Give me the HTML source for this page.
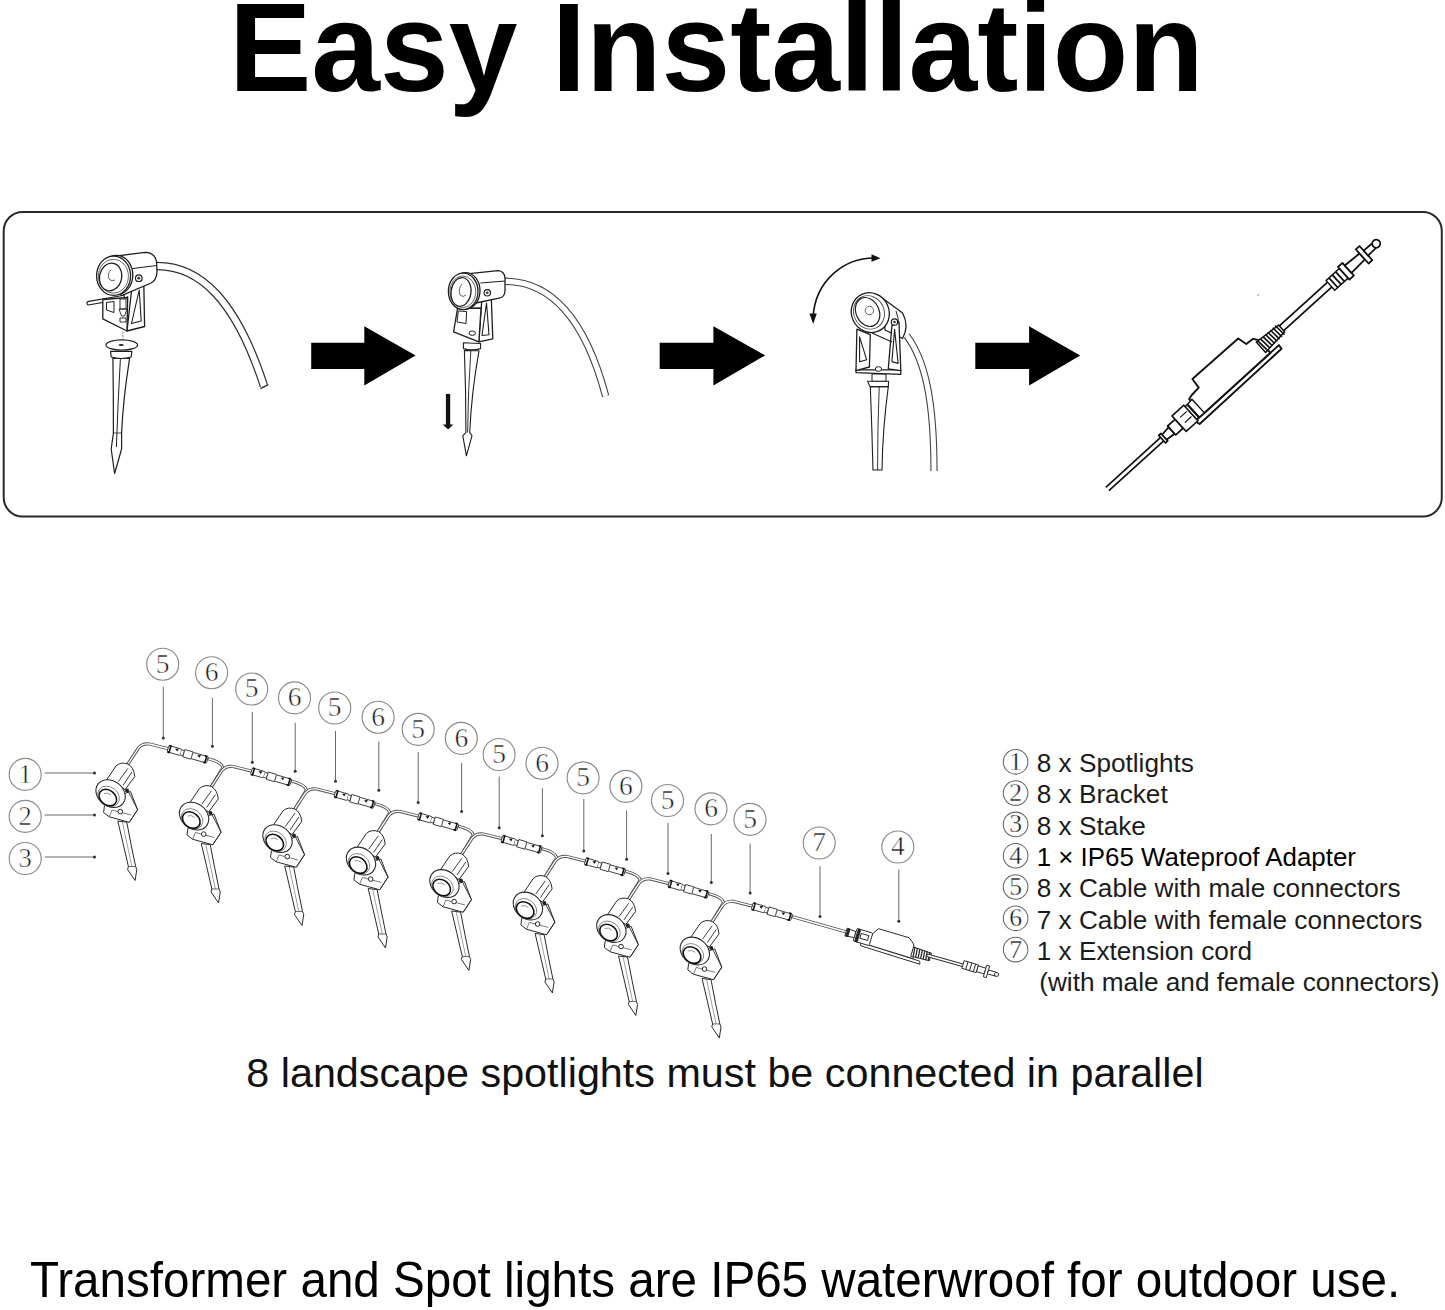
<!DOCTYPE html>
<html><head><meta charset="utf-8"><title>Easy Installation</title>
<style>html,body{margin:0;padding:0;background:#fff;}body{width:1445px;height:1310px;overflow:hidden;position:relative;}svg{position:absolute;left:0;top:0;}</style>
</head><body>
<svg width="1445" height="1310" viewBox="0 0 1445 1310">
<text transform="translate(229.00,90.90) scale(1,1.028)" font-family="Liberation Sans" font-size="123.5" font-weight="bold" fill="#000" >Easy Installation</text>
<text transform="translate(246.30,1086.50) scale(1,1)" font-family="Liberation Sans" font-size="41.3" font-weight="normal" fill="#111" >8 landscape spotlights must be connected in parallel</text>
<text transform="translate(30.00,1296.70) scale(1,1.034)" font-family="Liberation Sans" font-size="47.58" font-weight="normal" fill="#000" >Transformer and Spot lights are IP65 waterwroof for outdoor use.</text>
<rect x="3.7" y="212" width="1438.1" height="304.5" rx="19" ry="19" fill="none" stroke="#2a2a2a" stroke-width="2"/>
<polygon points="311.2,342.8 364.3,342.8 364.3,326.2 415.6,355.4 364.3,385.6 364.3,368.9 311.2,368.9" fill="#000"/>
<polygon points="659.7,342.8 713.4,342.8 713.4,326.2 765.2,355.4 713.4,385.6 713.4,368.9 659.7,368.9" fill="#000"/>
<polygon points="975.3,342.8 1029.1,342.8 1029.1,326.2 1080.2,355.4 1029.1,385.6 1029.1,368.9 975.3,368.9" fill="#000"/>
<circle cx="1015.6" cy="761.8" r="12.3" fill="none" stroke="#666" stroke-width="1.05"/>
<text x="1015.6" y="769.7" text-anchor="middle" font-family="Liberation Serif" font-size="25.6" fill="#1a1a1a" stroke="#fff" stroke-width="0.35">1</text>
<text transform="translate(1036.70,772.00) scale(1,0.965)" font-family="Liberation Sans" font-size="26.2" font-weight="normal" fill="#1c1c1c" >8 x Spotlights</text>
<circle cx="1015.6" cy="793.1" r="12.3" fill="none" stroke="#666" stroke-width="1.05"/>
<text x="1015.6" y="801.0" text-anchor="middle" font-family="Liberation Serif" font-size="25.6" fill="#1a1a1a" stroke="#fff" stroke-width="0.35">2</text>
<text transform="translate(1036.70,803.30) scale(1,0.965)" font-family="Liberation Sans" font-size="26.2" font-weight="normal" fill="#1c1c1c" >8 x Bracket</text>
<circle cx="1015.6" cy="824.4" r="12.3" fill="none" stroke="#666" stroke-width="1.05"/>
<text x="1015.6" y="832.3" text-anchor="middle" font-family="Liberation Serif" font-size="25.6" fill="#1a1a1a" stroke="#fff" stroke-width="0.35">3</text>
<text transform="translate(1036.70,834.60) scale(1,0.965)" font-family="Liberation Sans" font-size="26.2" font-weight="normal" fill="#1c1c1c" >8 x Stake</text>
<circle cx="1015.6" cy="855.7" r="12.3" fill="none" stroke="#666" stroke-width="1.05"/>
<text x="1015.6" y="863.6" text-anchor="middle" font-family="Liberation Serif" font-size="25.6" fill="#1a1a1a" stroke="#fff" stroke-width="0.35">4</text>
<text transform="translate(1036.70,865.90) scale(1,0.975)" font-family="Liberation Sans" font-size="25.9" font-weight="normal" fill="#000" >1 × IP65 Wateproof Adapter</text>
<circle cx="1015.6" cy="887.0" r="12.3" fill="none" stroke="#666" stroke-width="1.05"/>
<text x="1015.6" y="894.9" text-anchor="middle" font-family="Liberation Serif" font-size="25.6" fill="#1a1a1a" stroke="#fff" stroke-width="0.35">5</text>
<text transform="translate(1036.70,897.20) scale(1,0.965)" font-family="Liberation Sans" font-size="26.2" font-weight="normal" fill="#1c1c1c" >8 x Cable with male connectors</text>
<circle cx="1015.6" cy="918.3" r="12.3" fill="none" stroke="#666" stroke-width="1.05"/>
<text x="1015.6" y="926.2" text-anchor="middle" font-family="Liberation Serif" font-size="25.6" fill="#1a1a1a" stroke="#fff" stroke-width="0.35">6</text>
<text transform="translate(1036.70,928.50) scale(1,0.965)" font-family="Liberation Sans" font-size="26.2" font-weight="normal" fill="#1c1c1c" >7 x Cable with female connectors</text>
<circle cx="1015.6" cy="949.6" r="12.3" fill="none" stroke="#666" stroke-width="1.05"/>
<text x="1015.6" y="957.5" text-anchor="middle" font-family="Liberation Serif" font-size="25.6" fill="#1a1a1a" stroke="#fff" stroke-width="0.35">7</text>
<text transform="translate(1036.70,959.80) scale(1,0.965)" font-family="Liberation Sans" font-size="26.2" font-weight="normal" fill="#1c1c1c" >1 x Extension cord</text>
<text transform="translate(1039.20,991.10) scale(1,0.965)" font-family="Liberation Sans" font-size="26.2" font-weight="normal" fill="#1c1c1c" >(with male and female connectors)</text>
<circle cx="162.7" cy="664.2" r="16" fill="none" stroke="#8a8a8a" stroke-width="1.15"/>
<text x="162.7" y="672.5" text-anchor="middle" font-family="Liberation Serif" font-size="27.5" fill="#1a1a1a" stroke="#fff" stroke-width="0.5">5</text>
<line x1="163.3" y1="686.8" x2="163.3" y2="738" stroke="#6a6a6a" stroke-width="1"/><circle cx="163.3" cy="738" r="1.5" fill="#333"/>
<circle cx="211.6" cy="672.7" r="16" fill="none" stroke="#8a8a8a" stroke-width="1.15"/>
<text x="211.6" y="681.0" text-anchor="middle" font-family="Liberation Serif" font-size="27.5" fill="#1a1a1a" stroke="#fff" stroke-width="0.5">6</text>
<line x1="212.4" y1="697.6" x2="212.4" y2="746.2" stroke="#6a6a6a" stroke-width="1"/><circle cx="212.4" cy="746.2" r="1.5" fill="#333"/>
<circle cx="251.7" cy="689" r="16" fill="none" stroke="#8a8a8a" stroke-width="1.15"/>
<text x="251.7" y="697.3" text-anchor="middle" font-family="Liberation Serif" font-size="27.5" fill="#1a1a1a" stroke="#fff" stroke-width="0.5">5</text>
<line x1="252.3" y1="712" x2="252.3" y2="762.3" stroke="#6a6a6a" stroke-width="1"/><circle cx="252.3" cy="762.3" r="1.5" fill="#333"/>
<circle cx="294.5" cy="697.9" r="16" fill="none" stroke="#8a8a8a" stroke-width="1.15"/>
<text x="294.5" y="706.2" text-anchor="middle" font-family="Liberation Serif" font-size="27.5" fill="#1a1a1a" stroke="#fff" stroke-width="0.5">6</text>
<line x1="295.2" y1="722.8" x2="295.2" y2="771.3" stroke="#6a6a6a" stroke-width="1"/><circle cx="295.2" cy="771.3" r="1.5" fill="#333"/>
<circle cx="334.7" cy="708" r="16" fill="none" stroke="#8a8a8a" stroke-width="1.15"/>
<text x="334.7" y="716.3" text-anchor="middle" font-family="Liberation Serif" font-size="27.5" fill="#1a1a1a" stroke="#fff" stroke-width="0.5">5</text>
<line x1="335.5" y1="730.9" x2="335.5" y2="781.2" stroke="#6a6a6a" stroke-width="1"/><circle cx="335.5" cy="781.2" r="1.5" fill="#333"/>
<circle cx="378.1" cy="717.2" r="16" fill="none" stroke="#8a8a8a" stroke-width="1.15"/>
<text x="378.1" y="725.5" text-anchor="middle" font-family="Liberation Serif" font-size="27.5" fill="#1a1a1a" stroke="#fff" stroke-width="0.5">6</text>
<line x1="378.8" y1="741.7" x2="378.8" y2="790.2" stroke="#6a6a6a" stroke-width="1"/><circle cx="378.8" cy="790.2" r="1.5" fill="#333"/>
<circle cx="418.2" cy="729.3" r="16" fill="none" stroke="#8a8a8a" stroke-width="1.15"/>
<text x="418.2" y="737.6" text-anchor="middle" font-family="Liberation Serif" font-size="27.5" fill="#1a1a1a" stroke="#fff" stroke-width="0.5">5</text>
<line x1="418.2" y1="752.2" x2="418.2" y2="802.6" stroke="#6a6a6a" stroke-width="1"/><circle cx="418.2" cy="802.6" r="1.5" fill="#333"/>
<circle cx="461.3" cy="738.3" r="16" fill="none" stroke="#8a8a8a" stroke-width="1.15"/>
<text x="461.3" y="746.6" text-anchor="middle" font-family="Liberation Serif" font-size="27.5" fill="#1a1a1a" stroke="#fff" stroke-width="0.5">6</text>
<line x1="461.6" y1="763" x2="461.6" y2="811.5" stroke="#6a6a6a" stroke-width="1"/><circle cx="461.6" cy="811.5" r="1.5" fill="#333"/>
<circle cx="499.1" cy="754.5" r="16" fill="none" stroke="#8a8a8a" stroke-width="1.15"/>
<text x="499.1" y="762.8" text-anchor="middle" font-family="Liberation Serif" font-size="27.5" fill="#1a1a1a" stroke="#fff" stroke-width="0.5">5</text>
<line x1="499.2" y1="776.5" x2="499.2" y2="827.7" stroke="#6a6a6a" stroke-width="1"/><circle cx="499.2" cy="827.7" r="1.5" fill="#333"/>
<circle cx="542" cy="763.2" r="16" fill="none" stroke="#8a8a8a" stroke-width="1.15"/>
<text x="542" y="771.5" text-anchor="middle" font-family="Liberation Serif" font-size="27.5" fill="#1a1a1a" stroke="#fff" stroke-width="0.5">6</text>
<line x1="542.4" y1="788.2" x2="542.4" y2="835.8" stroke="#6a6a6a" stroke-width="1"/><circle cx="542.4" cy="835.8" r="1.5" fill="#333"/>
<circle cx="583.1" cy="777.8" r="16" fill="none" stroke="#8a8a8a" stroke-width="1.15"/>
<text x="583.1" y="786.1" text-anchor="middle" font-family="Liberation Serif" font-size="27.5" fill="#1a1a1a" stroke="#fff" stroke-width="0.5">5</text>
<line x1="583.8" y1="799" x2="583.8" y2="851.1" stroke="#6a6a6a" stroke-width="1"/><circle cx="583.8" cy="851.1" r="1.5" fill="#333"/>
<circle cx="625.9" cy="786.3" r="16" fill="none" stroke="#8a8a8a" stroke-width="1.15"/>
<text x="625.9" y="794.6" text-anchor="middle" font-family="Liberation Serif" font-size="27.5" fill="#1a1a1a" stroke="#fff" stroke-width="0.5">6</text>
<line x1="626.6" y1="810.6" x2="626.6" y2="859.2" stroke="#6a6a6a" stroke-width="1"/><circle cx="626.6" cy="859.2" r="1.5" fill="#333"/>
<circle cx="667.5" cy="800.5" r="16" fill="none" stroke="#8a8a8a" stroke-width="1.15"/>
<text x="667.5" y="808.8" text-anchor="middle" font-family="Liberation Serif" font-size="27.5" fill="#1a1a1a" stroke="#fff" stroke-width="0.5">5</text>
<line x1="668" y1="823" x2="668" y2="873.5" stroke="#6a6a6a" stroke-width="1"/><circle cx="668" cy="873.5" r="1.5" fill="#333"/>
<circle cx="711" cy="808.8" r="16" fill="none" stroke="#8a8a8a" stroke-width="1.15"/>
<text x="711" y="817.1" text-anchor="middle" font-family="Liberation Serif" font-size="27.5" fill="#1a1a1a" stroke="#fff" stroke-width="0.5">6</text>
<line x1="711.3" y1="834" x2="711.3" y2="882.4" stroke="#6a6a6a" stroke-width="1"/><circle cx="711.3" cy="882.4" r="1.5" fill="#333"/>
<circle cx="750" cy="819.4" r="16" fill="none" stroke="#8a8a8a" stroke-width="1.15"/>
<text x="750" y="827.7" text-anchor="middle" font-family="Liberation Serif" font-size="27.5" fill="#1a1a1a" stroke="#fff" stroke-width="0.5">5</text>
<line x1="750.1" y1="843.5" x2="750.1" y2="893" stroke="#6a6a6a" stroke-width="1"/><circle cx="750.1" cy="893" r="1.5" fill="#333"/>
<circle cx="819.2" cy="843" r="16" fill="none" stroke="#8a8a8a" stroke-width="1.15"/>
<text x="819.2" y="851.3" text-anchor="middle" font-family="Liberation Serif" font-size="27.5" fill="#1a1a1a" stroke="#fff" stroke-width="0.5">7</text>
<line x1="820" y1="866" x2="820" y2="916.5" stroke="#6a6a6a" stroke-width="1"/><circle cx="820" cy="916.5" r="1.5" fill="#333"/>
<circle cx="897.8" cy="847" r="16" fill="none" stroke="#8a8a8a" stroke-width="1.15"/>
<text x="897.8" y="855.3" text-anchor="middle" font-family="Liberation Serif" font-size="27.5" fill="#1a1a1a" stroke="#fff" stroke-width="0.5">4</text>
<line x1="898.8" y1="869.4" x2="898.8" y2="921.2" stroke="#6a6a6a" stroke-width="1"/><circle cx="898.8" cy="921.2" r="1.5" fill="#333"/>
<circle cx="25.2" cy="774.4" r="16" fill="none" stroke="#8a8a8a" stroke-width="1.15"/>
<text x="25.2" y="782.7" text-anchor="middle" font-family="Liberation Serif" font-size="26.6" fill="#1a1a1a" stroke="#fff" stroke-width="0.5">1</text>
<line x1="44.7" y1="773" x2="94.5" y2="773" stroke="#6a6a6a" stroke-width="1"/><circle cx="94.5" cy="773" r="1.5" fill="#333"/>
<circle cx="25.2" cy="816.4" r="16" fill="none" stroke="#8a8a8a" stroke-width="1.15"/>
<text x="25.2" y="824.7" text-anchor="middle" font-family="Liberation Serif" font-size="26.6" fill="#1a1a1a" stroke="#fff" stroke-width="0.5">2</text>
<line x1="44.7" y1="815" x2="94.5" y2="815" stroke="#6a6a6a" stroke-width="1"/><circle cx="94.5" cy="815" r="1.5" fill="#333"/>
<circle cx="25.2" cy="858.5" r="16" fill="none" stroke="#8a8a8a" stroke-width="1.15"/>
<text x="25.2" y="866.8" text-anchor="middle" font-family="Liberation Serif" font-size="26.6" fill="#1a1a1a" stroke="#fff" stroke-width="0.5">3</text>
<line x1="44.7" y1="857" x2="94.5" y2="857" stroke="#6a6a6a" stroke-width="1"/><circle cx="94.5" cy="857" r="1.5" fill="#333"/>
<defs><g id="lamp">
<g stroke="#2a2a2a" stroke-width="1" fill="#fff" stroke-linejoin="round">
 <!-- stake -->
 <path d="M117.8,821 Q123,843 128.4,866.5 L127.6,869.5 L135.1,880.5 L136.8,869.5 L135.6,866.5 Q131,845 126.8,822.2 Z"/>
 <path d="M122.3,821.8 L131.9,866.5" fill="none" stroke="#777" stroke-width="0.7"/>
 <path d="M128.2,866.5 L135.6,866.5" fill="none" stroke-width="0.7"/>
 <!-- bracket -->
 <path d="M104.4,806 L103.6,812.5 L109.2,816.8 L129.3,822.3 L137.6,809.7 L130.5,791.5 L126,793 Z"/>
 <path d="M127.5,790 L137.6,809.7 L129.3,822.3" fill="none" stroke-width="0.9"/>
 <path d="M109.2,816.8 L112,810 L131,815" fill="none" stroke="#555" stroke-width="0.8"/>
 <circle cx="120.3" cy="811.6" r="2.3" stroke-width="1"/>
 <!-- cylinder -->
 <path d="M106.5,780 L116,766 Q121,761.5 128,764 Q134,767.5 134.8,776.5 L125.2,789.5 Z"/>
 <path d="M118.3,781.7 L128,768.3 M123.2,785 L132,772" fill="none" stroke-width="0.9"/>
 <!-- front ring -->
 <ellipse cx="110.6" cy="793.6" rx="15.8" ry="12.6" transform="rotate(38 110.6 793.6)" stroke-width="1.1"/>
 <ellipse cx="108.6" cy="796.4" rx="11.6" ry="9.4" transform="rotate(38 108.6 796.4)" stroke="#777" stroke-width="0.8"/>
 <ellipse cx="107.8" cy="797.6" rx="9.6" ry="7.4" transform="rotate(38 107.8 797.6)" stroke="#111" stroke-width="1.6"/>
 <path d="M104,793.5 Q108,792 111,795" fill="none" stroke="#777" stroke-width="0.8"/>
 <circle cx="127" cy="790.5" r="2" fill="#222" stroke="none"/>
</g></g></defs>
<defs><g id="conn">
<g stroke="#333" stroke-width="0.85" fill="#fff">
 <rect x="0.5" y="-3.3" width="13.5" height="6.6" rx="0.8"/>
 <path d="M0.8,-3.4 L2.6,-3.4 L2.6,3.4 L0.8,3.4" fill="none" stroke="#111" stroke-width="1.6"/>
 <path d="M7.5,-1.8 L11,-3 L10.2,0.2 Z" fill="#111" stroke="none"/>
 <path d="M14,-2.6 L17,-2.6 L17,2.6 L14,2.6"/>
 <path d="M17,-3.8 L25.5,-3.8 Q27.5,0 25.5,3.8 L17,3.8 Z"/>
 <rect x="25.5" y="-3.3" width="16" height="6.6" rx="0.8"/>
 <path d="M30.5,-1.8 L34,-3 L33.2,0.2 Z" fill="#111" stroke="none"/>
 <path d="M38,-3.4 L39.8,-3.4 L39.8,3.4 L38,3.4" fill="none" stroke="#111" stroke-width="1.6"/>
</g></g></defs>
<g transform="translate(0.00,0.00)">
<path d="M128,764 L138.5,748 Q142.5,743 149.5,744 L167.5,748.5" fill="none" stroke="#555" stroke-width="3.2" stroke-linecap="round" stroke-linejoin="round"/>
<path d="M128,764 L138.5,748 Q142.5,743 149.5,744 L167.5,748.5" fill="none" stroke="#fff" stroke-width="1.3" stroke-linecap="round" stroke-linejoin="round"/>
<path d="M209,759 Q221,762 223,767.5 L211.8,786" fill="none" stroke="#555" stroke-width="3.2" stroke-linecap="round" stroke-linejoin="round"/>
<path d="M209,759 Q221,762 223,767.5 L211.8,786" fill="none" stroke="#fff" stroke-width="1.3" stroke-linecap="round" stroke-linejoin="round"/>
</g>
<g transform="translate(83.46,22.49)">
<path d="M128,764 L138.5,748 Q142.5,743 149.5,744 L167.5,748.5" fill="none" stroke="#555" stroke-width="3.2" stroke-linecap="round" stroke-linejoin="round"/>
<path d="M128,764 L138.5,748 Q142.5,743 149.5,744 L167.5,748.5" fill="none" stroke="#fff" stroke-width="1.3" stroke-linecap="round" stroke-linejoin="round"/>
<path d="M209,759 Q221,762 223,767.5 L211.8,786" fill="none" stroke="#555" stroke-width="3.2" stroke-linecap="round" stroke-linejoin="round"/>
<path d="M209,759 Q221,762 223,767.5 L211.8,786" fill="none" stroke="#fff" stroke-width="1.3" stroke-linecap="round" stroke-linejoin="round"/>
</g>
<g transform="translate(166.92,44.98)">
<path d="M128,764 L138.5,748 Q142.5,743 149.5,744 L167.5,748.5" fill="none" stroke="#555" stroke-width="3.2" stroke-linecap="round" stroke-linejoin="round"/>
<path d="M128,764 L138.5,748 Q142.5,743 149.5,744 L167.5,748.5" fill="none" stroke="#fff" stroke-width="1.3" stroke-linecap="round" stroke-linejoin="round"/>
<path d="M209,759 Q221,762 223,767.5 L211.8,786" fill="none" stroke="#555" stroke-width="3.2" stroke-linecap="round" stroke-linejoin="round"/>
<path d="M209,759 Q221,762 223,767.5 L211.8,786" fill="none" stroke="#fff" stroke-width="1.3" stroke-linecap="round" stroke-linejoin="round"/>
</g>
<g transform="translate(250.38,67.47)">
<path d="M128,764 L138.5,748 Q142.5,743 149.5,744 L167.5,748.5" fill="none" stroke="#555" stroke-width="3.2" stroke-linecap="round" stroke-linejoin="round"/>
<path d="M128,764 L138.5,748 Q142.5,743 149.5,744 L167.5,748.5" fill="none" stroke="#fff" stroke-width="1.3" stroke-linecap="round" stroke-linejoin="round"/>
<path d="M209,759 Q221,762 223,767.5 L211.8,786" fill="none" stroke="#555" stroke-width="3.2" stroke-linecap="round" stroke-linejoin="round"/>
<path d="M209,759 Q221,762 223,767.5 L211.8,786" fill="none" stroke="#fff" stroke-width="1.3" stroke-linecap="round" stroke-linejoin="round"/>
</g>
<g transform="translate(333.84,89.96)">
<path d="M128,764 L138.5,748 Q142.5,743 149.5,744 L167.5,748.5" fill="none" stroke="#555" stroke-width="3.2" stroke-linecap="round" stroke-linejoin="round"/>
<path d="M128,764 L138.5,748 Q142.5,743 149.5,744 L167.5,748.5" fill="none" stroke="#fff" stroke-width="1.3" stroke-linecap="round" stroke-linejoin="round"/>
<path d="M209,759 Q221,762 223,767.5 L211.8,786" fill="none" stroke="#555" stroke-width="3.2" stroke-linecap="round" stroke-linejoin="round"/>
<path d="M209,759 Q221,762 223,767.5 L211.8,786" fill="none" stroke="#fff" stroke-width="1.3" stroke-linecap="round" stroke-linejoin="round"/>
</g>
<g transform="translate(417.30,112.45)">
<path d="M128,764 L138.5,748 Q142.5,743 149.5,744 L167.5,748.5" fill="none" stroke="#555" stroke-width="3.2" stroke-linecap="round" stroke-linejoin="round"/>
<path d="M128,764 L138.5,748 Q142.5,743 149.5,744 L167.5,748.5" fill="none" stroke="#fff" stroke-width="1.3" stroke-linecap="round" stroke-linejoin="round"/>
<path d="M209,759 Q221,762 223,767.5 L211.8,786" fill="none" stroke="#555" stroke-width="3.2" stroke-linecap="round" stroke-linejoin="round"/>
<path d="M209,759 Q221,762 223,767.5 L211.8,786" fill="none" stroke="#fff" stroke-width="1.3" stroke-linecap="round" stroke-linejoin="round"/>
</g>
<g transform="translate(500.76,134.94)">
<path d="M128,764 L138.5,748 Q142.5,743 149.5,744 L167.5,748.5" fill="none" stroke="#555" stroke-width="3.2" stroke-linecap="round" stroke-linejoin="round"/>
<path d="M128,764 L138.5,748 Q142.5,743 149.5,744 L167.5,748.5" fill="none" stroke="#fff" stroke-width="1.3" stroke-linecap="round" stroke-linejoin="round"/>
<path d="M209,759 Q221,762 223,767.5 L211.8,786" fill="none" stroke="#555" stroke-width="3.2" stroke-linecap="round" stroke-linejoin="round"/>
<path d="M209,759 Q221,762 223,767.5 L211.8,786" fill="none" stroke="#fff" stroke-width="1.3" stroke-linecap="round" stroke-linejoin="round"/>
</g>
<g transform="translate(584.22,157.43)">
<path d="M128,764 L138.5,748 Q142.5,743 149.5,744 L167.5,748.5" fill="none" stroke="#555" stroke-width="3.2" stroke-linecap="round" stroke-linejoin="round"/>
<path d="M128,764 L138.5,748 Q142.5,743 149.5,744 L167.5,748.5" fill="none" stroke="#fff" stroke-width="1.3" stroke-linecap="round" stroke-linejoin="round"/>
</g>
<use href="#lamp" transform="translate(0.00,0.00)"/>
<use href="#conn" transform="translate(167.50,748.50) rotate(16.0)"/>
<use href="#lamp" transform="translate(83.46,22.49)"/>
<use href="#conn" transform="translate(250.96,770.99) rotate(16.0)"/>
<use href="#lamp" transform="translate(166.92,44.98)"/>
<use href="#conn" transform="translate(334.42,793.48) rotate(16.0)"/>
<use href="#lamp" transform="translate(250.38,67.47)"/>
<use href="#conn" transform="translate(417.88,815.97) rotate(16.0)"/>
<use href="#lamp" transform="translate(333.84,89.96)"/>
<use href="#conn" transform="translate(501.34,838.46) rotate(16.0)"/>
<use href="#lamp" transform="translate(417.30,112.45)"/>
<use href="#conn" transform="translate(584.80,860.95) rotate(16.0)"/>
<use href="#lamp" transform="translate(500.76,134.94)"/>
<use href="#conn" transform="translate(668.26,883.44) rotate(16.0)"/>
<use href="#lamp" transform="translate(584.22,157.43)"/>
<use href="#conn" transform="translate(751.72,905.93) rotate(16.0)"/>
<path d="M793.5,917 L846.5,932" fill="none" stroke="#555" stroke-width="3.2" stroke-linecap="round" stroke-linejoin="round"/>
<path d="M793.5,917 L846.5,932" fill="none" stroke="#fff" stroke-width="1.3" stroke-linecap="round" stroke-linejoin="round"/>
<g transform="translate(846,932) rotate(16.5)" stroke="#2a2a2a" stroke-width="0.9" fill="#fff">
 <path d="M0,-4 L9.5,-3 L9.5,3 L0,4 Z"/><rect x="1" y="-4" width="2" height="8" fill="#222"/>
 <path d="M16.8,5.7 L79,7 L80,10 L18,9 Z"/>
 <path d="M26.3,-6.5 L30.2,-12.4 L62.1,-12.4 L66,-9.5 L68.2,-7.7 L70,-3.3 L72,6.5 L24,6 Z"/>
 <rect x="9.5" y="-6.5" width="16.5" height="13" rx="1"/><rect x="11" y="-6.5" width="2.5" height="13" fill="#222"/><rect x="15" y="-3" width="8" height="5" fill="none"/>
 <path d="M69,-4.8 L88,-3.8 L88,3.8 L69,4.8 Z" fill="#fff" stroke-width="1"/>
 <line x1="70.5" y1="-4.5" x2="71.3" y2="4.5" stroke-width="1.3"/>
 <line x1="73.1" y1="-4.5" x2="73.9" y2="4.5" stroke-width="1.3"/>
 <line x1="75.7" y1="-4.5" x2="76.5" y2="4.5" stroke-width="1.3"/>
 <line x1="78.3" y1="-4.5" x2="79.1" y2="4.5" stroke-width="1.3"/>
 <line x1="80.9" y1="-4.5" x2="81.7" y2="4.5" stroke-width="1.3"/>
 <line x1="83.5" y1="-4.5" x2="84.3" y2="4.5" stroke-width="1.3"/>
 <line x1="86.1" y1="-4.5" x2="86.9" y2="4.5" stroke-width="1.3"/>
</g>
<path d="M928,955.5 L963.5,965.5" fill="none" stroke="#333" stroke-width="3.6" stroke-linecap="round" stroke-linejoin="round"/>
<path d="M928,955.5 L963.5,965.5" fill="none" stroke="#fff" stroke-width="1.6" stroke-linecap="round" stroke-linejoin="round"/>
<g transform="translate(963,964.5) rotate(16.5)" stroke="#2a2a2a" stroke-width="0.9" fill="#fff">
 <rect x="0" y="-4" width="15" height="8"/><line x1="4" y1="-4" x2="4" y2="4"/><line x1="8" y1="-4" x2="8" y2="4"/><line x1="12" y1="-4" x2="12" y2="4"/>
 <rect x="15" y="-3" width="8" height="6"/><rect x="23" y="-6" width="3" height="12"/><rect x="26" y="-2" width="8" height="4"/><circle cx="35" cy="0" r="2"/>
</g><path d="M150,266 L157,266 C200,266 236,300 264,386" fill="none" stroke="#333" stroke-width="8.6" stroke-linecap="butt"/>
<path d="M150,266 L157,266 C200,266 236,300 264,386" fill="none" stroke="#fff" stroke-width="6.2" stroke-linecap="butt"/>
<path d="M260.4,388.6 L268.4,384.6" stroke="#333" stroke-width="1.3" fill="none"/>
<g stroke="#1e1e1e" fill="#fff" stroke-linejoin="round" stroke-width="1.3">
<path d="M87.5,301.6 L124,295.2 L124.6,298.6 L88.2,305 Q86,303.4 87.5,301.6 Z" stroke-width="1.1"/>
<path d="M132.6,281.5 L143.7,277.8 L144.6,326.5 L127,331 Z"/>
<path d="M139.2,290 L141.2,321 L131.5,323.5 Z" stroke-width="1.1"/>
<path d="M102.8,299.5 L127.7,297.5 L127,331 L102.8,318.9 Z"/>
<path d="M106.5,302.5 L114,301.5 L114,312.5 L106.5,310 Z" stroke-width="1"/>
<path d="M120,299 L126,299 L126,309 L120,309 Z M119,309 L127,309 L124.5,316 L121.5,316 Z" stroke-width="0.9"/>
<path d="M120,318 L126,318 L126,322 L120,322 Z" stroke-width="0.9"/>
<line x1="126" y1="299" x2="128" y2="296" stroke-width="0.9"/>
<path d="M109.8,256.8 L145,252.4 Q155,252.5 156.6,262 L157,272 Q156.5,281 150,283.5 L121.5,295.6 Z"/>
<path d="M125,269.5 L156.5,265.5" fill="none" stroke-width="1"/>
<circle cx="138.8" cy="278.2" r="3.3" stroke-width="1.2"/><circle cx="138.8" cy="278.2" r="1.4" fill="#333" stroke="none"/>
<ellipse cx="116.4" cy="275" rx="16.4" ry="19.6"/>
<ellipse cx="113.6" cy="275.8" rx="17" ry="19.6"/>
<ellipse cx="113.4" cy="276.2" rx="15" ry="17" stroke-width="0.9" stroke="#555"/>
<ellipse cx="110.6" cy="277" rx="11" ry="14" transform="rotate(12 110.6 277)" stroke-width="1.3"/>
<path d="M111,270 Q107,273 109,279 Q112,282 115,280" fill="none" stroke="#666" stroke-width="1"/>
</g>
<line x1="122.9" y1="331.5" x2="122.9" y2="342" stroke="#666" stroke-width="0.9" stroke-dasharray="2,1.5"/>
<g stroke="#1e1e1e" fill="#fff" stroke-linejoin="round" stroke-width="1.2">
<path d="M112.9,358.4 L129.6,358.4 Q123,400 121.6,433 L121.6,449 L114.6,473.5 L111.2,449 L113.4,433 Q113.5,395 112.9,358.4 Z"/>
<path d="M120.4,358.6 Q118,400 116.4,447" fill="none" stroke-width="1"/>
<path d="M113.4,433 L121.6,433" fill="none" stroke-width="0.8"/>
<path d="M110.6,351.4 L131.8,351.4 L131.2,357 Q121,360 111.2,357 Z"/>
<ellipse cx="121.8" cy="345" rx="15.8" ry="5.2"/>
<ellipse cx="121.2" cy="345" rx="2.6" ry="1.1" fill="#222" stroke="none"/>
</g>
<path d="M498,281.3 L505,281.3 C550,281 585,318 605.6,396" fill="none" stroke="#444" stroke-width="7.4" stroke-linecap="butt"/>
<path d="M498,281.3 L505,281.3 C550,281 585,318 605.6,396" fill="none" stroke="#fff" stroke-width="5.2" stroke-linecap="butt"/>
<g stroke="#1e1e1e" fill="#fff" stroke-linejoin="round" stroke-width="1.3">
<path d="M481.9,298.2 L491.2,295.6 L492.8,338.8 L478.9,341.8 Z"/>
<path d="M486.5,303 L489,334.8 L482,335.5 Z" stroke-width="1.1"/>
<path d="M457.5,308.5 L481,308 L478.9,341.8 L453.6,331.8 Z"/>
<path d="M458.3,311 L466.6,311.5 L466,323.5 L457,322 Z" stroke-width="1"/>
<ellipse cx="472.2" cy="333.2" rx="3.2" ry="2.2" stroke-width="1"/>
<path d="M463.4,342.8 L480.6,343.5 L480.6,348.6 Q472,351 463.4,348.6 Z" stroke-width="1.1"/>
<path d="M464.4,350.6 L479,350.8 Q471.5,392 469.7,432.6 L472,435.6 L466.4,455.8 L462.8,435.6 L465.9,432.6 Q466,392 464.4,350.6 Z" stroke-width="1.1"/>
<path d="M470.8,351 Q468,392 467.6,432.6" fill="none" stroke-width="0.9"/>
<path d="M466.7,273.8 L498,270.6 Q504.5,271 505,278 L505,291 Q504.5,297.5 499,298.2 L476,303 Z"/>
<line x1="480.4" y1="283" x2="505" y2="281" stroke-width="1"/>
<circle cx="487.3" cy="292.8" r="3.2" stroke-width="1.2"/><circle cx="487.3" cy="292.8" r="1.3" fill="#333" stroke="none"/>
<ellipse cx="465.6" cy="290.8" rx="14.4" ry="18.2"/>
<ellipse cx="463.2" cy="291.4" rx="14.8" ry="18.2"/>
<ellipse cx="462.8" cy="291.8" rx="13" ry="15.8" stroke="#555" stroke-width="0.9"/>
<ellipse cx="461" cy="292" rx="10" ry="14.4" transform="rotate(8 461 292)" stroke-width="1.2"/>
<path d="M462,284 Q458,288 460,295 Q463,298 466,295" fill="none" stroke="#666" stroke-width="1"/>
</g>
<rect x="445.9" y="393.9" width="4.3" height="31.2" fill="#111"/>
<polygon points="442.8,424.4 453.4,424.4 448.1,429.4" fill="#111"/>
<path d="M906.7,335.6 C925,360 934,400 934,471" fill="none" stroke="#444" stroke-width="7.2" stroke-linecap="butt"/>
<path d="M906.7,335.6 C925,360 934,400 934,471" fill="none" stroke="#fff" stroke-width="5.0" stroke-linecap="butt"/>
<path d="M876,258 C845,257 815,280 813,318" fill="none" stroke="#111" stroke-width="1.6"/>
<polygon points="871.5,254.3 880.5,258.2 871.5,261.8" fill="#111"/>
<polygon points="809.4,313.5 813.2,324 816.8,313.5" fill="#111"/>
<g stroke="#1e1e1e" fill="#fff" stroke-linejoin="round" stroke-width="1.3">
<path d="M870.3,386.6 L888.3,386.6 Q882.5,430 882,470 L873,470 Q872,430 870.3,386.6 Z" stroke-width="1.1"/>
<path d="M879.2,387 Q877.5,430 877.6,470" fill="none" stroke-width="0.9"/>
<path d="M867.6,381.2 L888.6,381.2 L888.3,386.6 L870,386.6 Z" stroke-width="1.1"/>
<path d="M872,374 L886,374 L886,381.2 L872,381.2 Z" stroke-width="1"/>
<path d="M882.9,298.6 L902.6,313 Q909.5,326 902.6,338.5 L885,330 Z"/>
<path d="M896,311 Q901,324 896,336" fill="none" stroke-width="1"/>
<path d="M856,369.8 L900.8,369.8 L900.8,374.4 L856,372.6 Z"/>
<path d="M856.9,329.2 L870.3,334.6 L869.4,367 L856,370.6 Z"/>
<path d="M859.6,336.8 L866.7,359.8 L859.6,361.8 Z" stroke-width="1.1"/>
<path d="M891.9,325.6 L899,322 L900.8,370.6 L888.3,368.8 Z"/>
<path d="M894.6,329.4 L898.1,363.4 L891.9,361.6 Z" stroke-width="1.1"/>
<ellipse cx="878.4" cy="369" rx="3.2" ry="2.3" stroke-width="1"/>
<path d="M872,333 L892,342" fill="none" stroke-width="1.1"/>
<circle cx="894.5" cy="322" r="3.2" stroke-width="1.2"/><circle cx="894.5" cy="322" r="1.3" fill="#333" stroke="none"/>
<ellipse cx="870.3" cy="312.6" rx="18.8" ry="20.2" transform="rotate(-25 870.3 312.6)"/>
<ellipse cx="869" cy="312.4" rx="15.2" ry="17" transform="rotate(-25 869 312.4)" stroke="#555" stroke-width="0.9"/>
<ellipse cx="867.6" cy="312" rx="11.5" ry="15" transform="rotate(-25 867.6 312)" stroke-width="1.2"/>
<circle cx="869.4" cy="310.5" r="4.2" stroke="#666" stroke-width="1"/>
</g>
<g transform="translate(1186.5,417) rotate(-42.3)" stroke="#111" fill="#fff" stroke-width="1.8" stroke-linejoin="round">
<path d="M-107,-2.3 L-31,-2.3 M-107,2.3 L-31,2.3" fill="none" stroke-width="1.7"/>
<path d="M-31,-3.2 L-20,-4.5 L-20,4.5 L-31,3.2 Z"/><rect x="-33" y="-5" width="3" height="10"/>
<rect x="-20" y="-6" width="10" height="12"/>
<path d="M3.5,9 L116.7,9 L116.2,13.5 L5,14 Z" stroke-width="1.9"/>
<path d="M14,-11.5 L18.7,-12.7 L28.8,-13.5 L29.9,-24.1 L91.1,-23.3 L93.3,-13.7 L101.9,-13 L105.3,-8.2 L105.3,9 L14,9 Z" stroke-width="1.9"/>
<path d="M-10,-10.5 L6,-10.5 L6,10.5 L-10,10.5 Z" stroke-width="1.6"/>
<path d="M6,-8.5 L16,-9.5 L16,9 L6,8.5 Z" stroke-width="1.4"/>
<line x1="-5" y1="-4" x2="4" y2="-4" stroke-width="1.2"/><line x1="-5" y1="3" x2="4" y2="3" stroke-width="1.2"/>
<line x1="9" y1="-9" x2="9" y2="9" stroke-width="2.2"/>
<path d="M102,-8.5 L130,-6 L130,3 L102,5.5 Z" stroke-width="1.5"/>
<line x1="104.0" y1="-8" x2="104.8" y2="5" stroke-width="1.6"/>
<line x1="107.3" y1="-8" x2="108.1" y2="5" stroke-width="1.6"/>
<line x1="110.6" y1="-8" x2="111.4" y2="5" stroke-width="1.6"/>
<line x1="113.9" y1="-8" x2="114.7" y2="5" stroke-width="1.6"/>
<line x1="117.2" y1="-8" x2="118.0" y2="5" stroke-width="1.6"/>
<line x1="120.5" y1="-8" x2="121.3" y2="5" stroke-width="1.6"/>
<line x1="123.8" y1="-8" x2="124.6" y2="5" stroke-width="1.6"/>
<line x1="127.1" y1="-8" x2="127.9" y2="5" stroke-width="1.6"/>
<path d="M130,-4.8 L203,-4.8 M130,1.6 L203,1.6" fill="none"/>
<path d="M195,-7 L213,-7 L213,6 L195,6 Z" stroke-width="1.5"/>
<line x1="199" y1="-7" x2="199" y2="6" stroke-width="1.8"/>
<line x1="203.5" y1="-7" x2="203.5" y2="6" stroke-width="1.8"/>
<line x1="208" y1="-7" x2="208" y2="6" stroke-width="1.8"/>
<path d="M213,-9 L219,-9 L219,8 L213,8 Z"/>
<path d="M219,-5.5 L238,-4.5 L238,3.5 L219,4.5 Z"/>
<path d="M238,-10 L243,-10 L243,9 L238,9 Z"/>
<path d="M243,-3.8 L254,-3.5 L254,2.5 L243,2.8 Z"/>
<circle cx="257" cy="-0.5" r="4"/>
</g>
<circle cx="1258" cy="295" r="0.8" fill="#777"/>
</svg>
</body></html>
